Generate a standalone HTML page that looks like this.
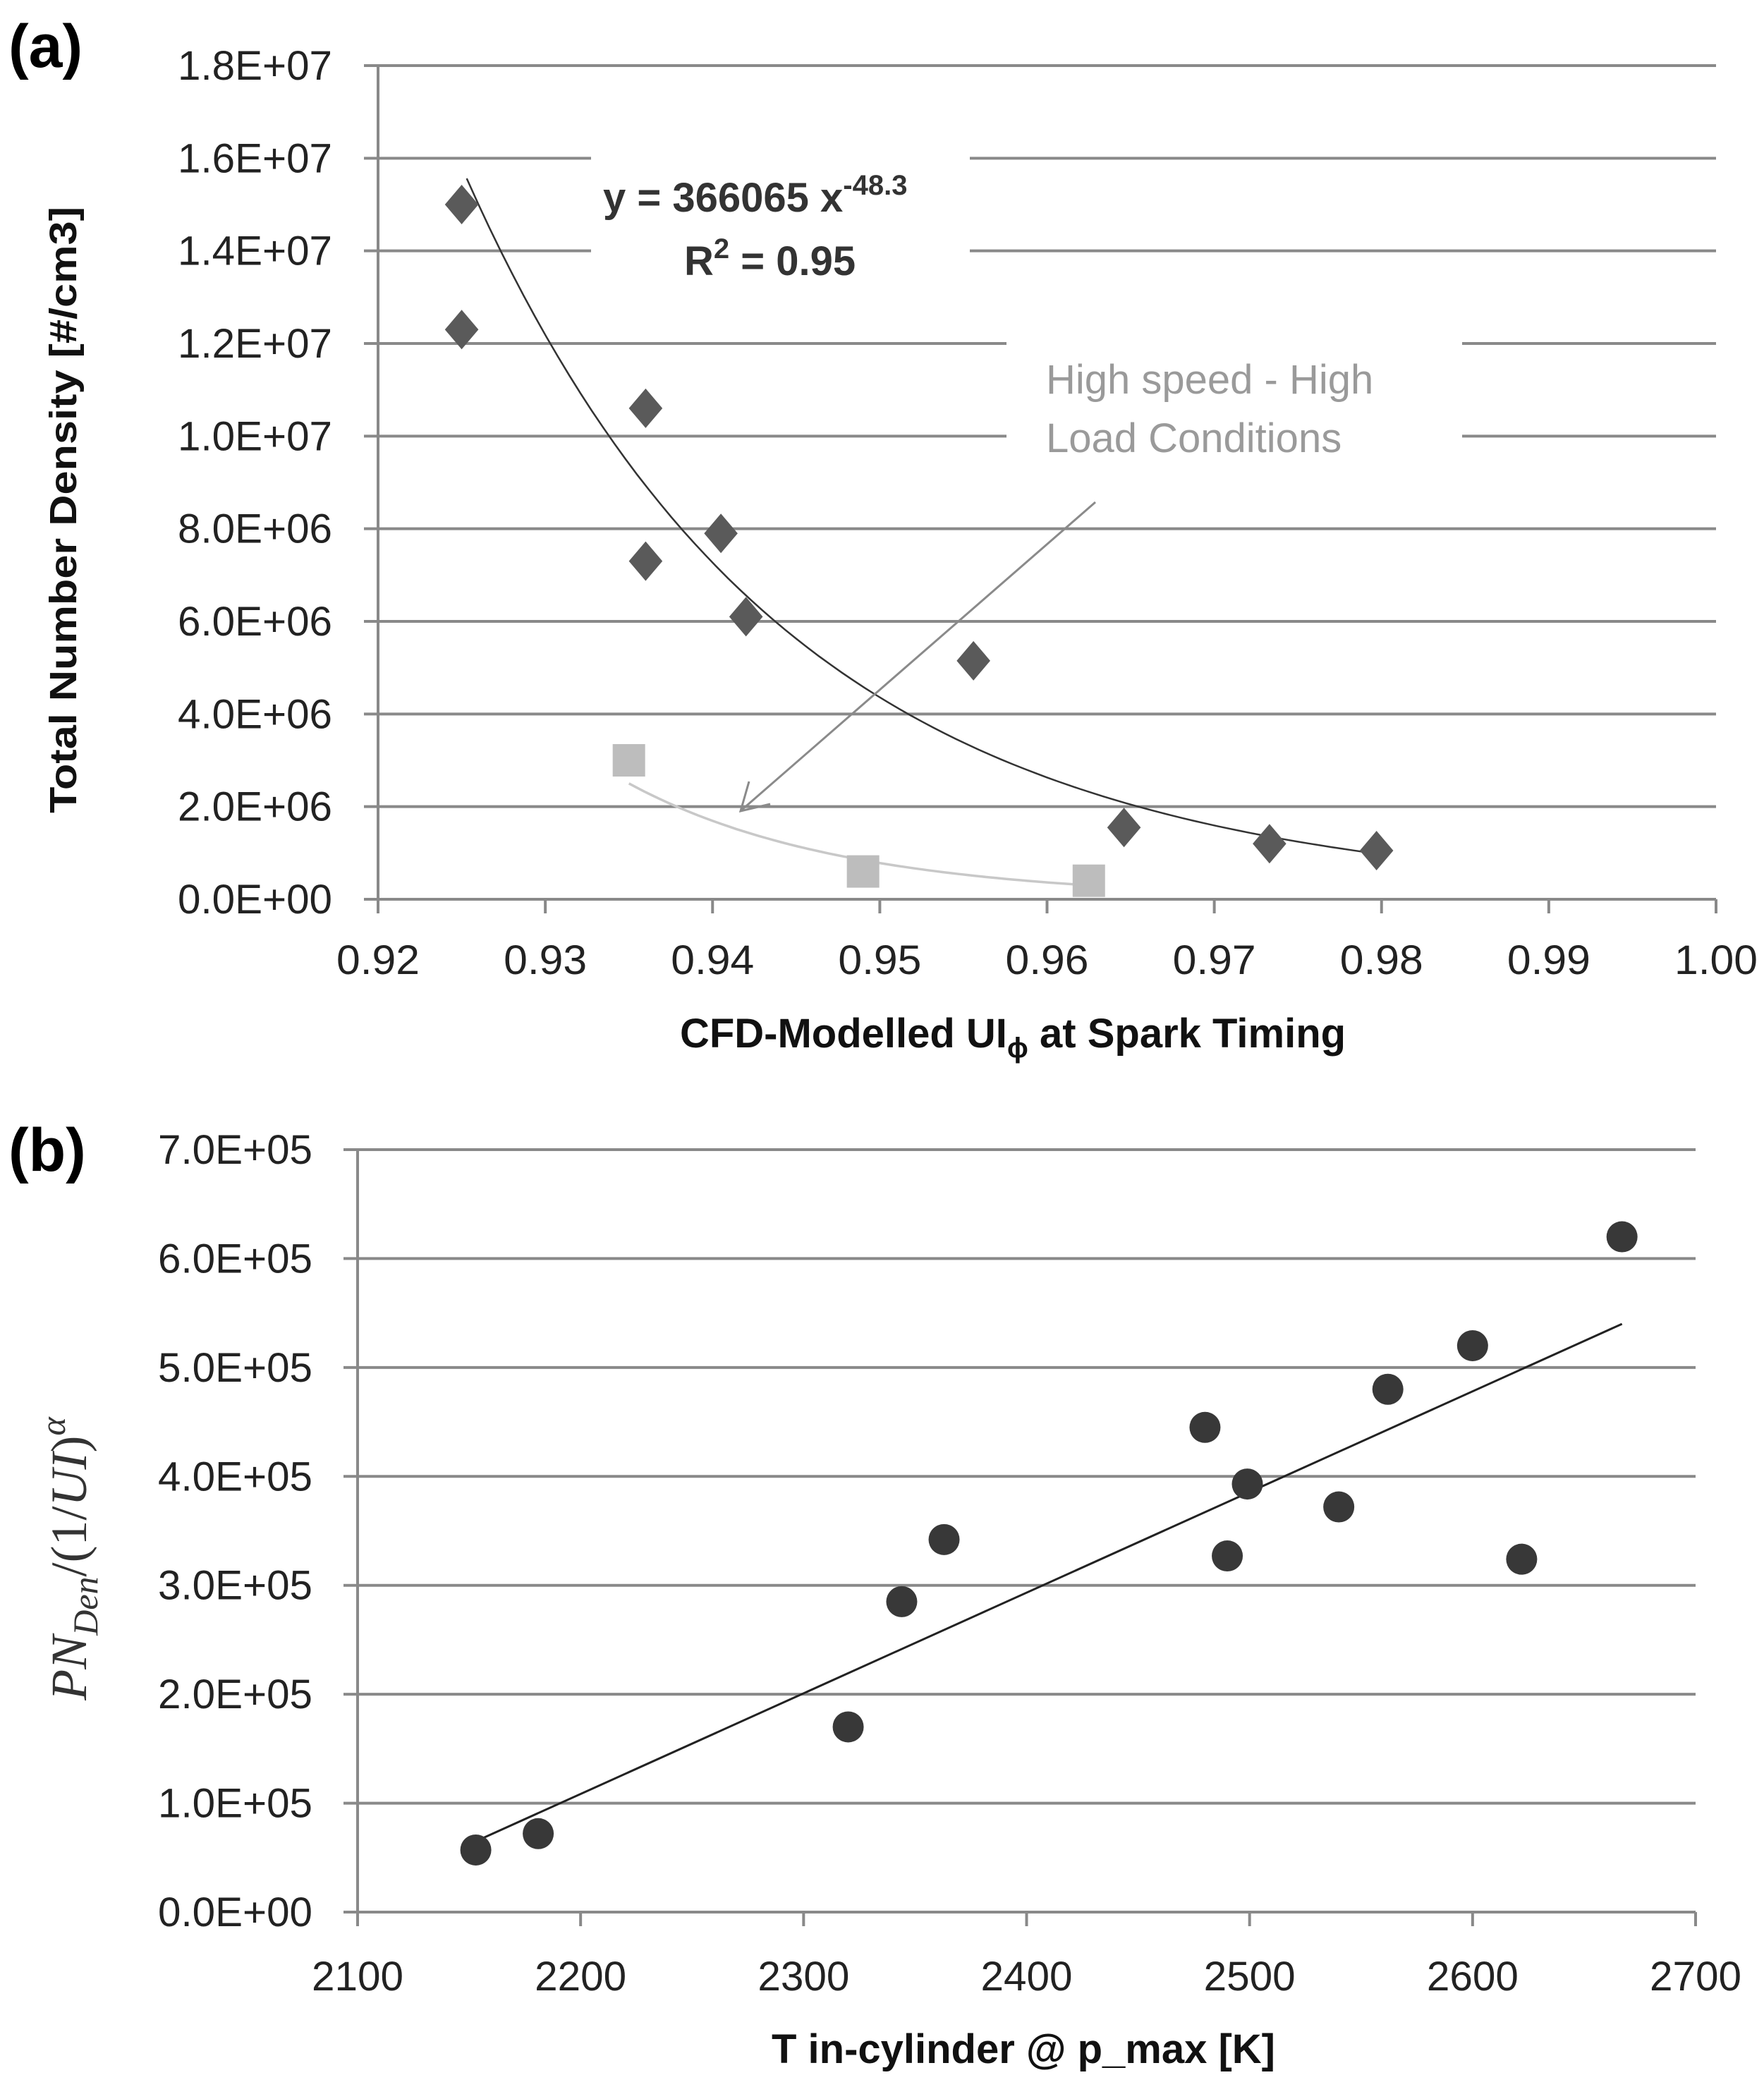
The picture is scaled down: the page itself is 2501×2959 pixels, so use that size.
<!DOCTYPE html>
<html><head><meta charset="utf-8"><style>
html,body{margin:0;padding:0;background:#fff;}
svg{display:block;}
text{font-family:"Liberation Sans Narrow","Liberation Sans",sans-serif;}
</style></head><body>
<svg id="fig" width="2501" height="2959" viewBox="0 0 2501 2959" xmlns="http://www.w3.org/2000/svg">
<rect width="2501" height="2959" fill="#fff"/>
<g id="ca"></g>
<g id="cb"></g>
</svg>
<script>
// ---- Chart (a) data ----
const aYTicks = [0, 2e6, 4e6, 6e6, 8e6, 1e7, 1.2e7, 1.4e7, 1.6e7, 1.8e7];
const aYTickLabels = ["0.0E+00","2.0E+06","4.0E+06","6.0E+06","8.0E+06","1.0E+07","1.2E+07","1.4E+07","1.6E+07","1.8E+07"];
const aXTicks = [0.92,0.93,0.94,0.95,0.96,0.97,0.98,0.99,1.00];
const aXTickLabels = ["0.92","0.93","0.94","0.95","0.96","0.97","0.98","0.99","1.00"];
const diamondX = [0.925,0.925,0.936,0.936,0.9405,0.942,0.9556,0.9646,0.9733,0.9797];
const diamondY = [1.5e7,1.23e7,1.06e7,7.3e6,7.9e6,6.1e6,5.15e6,1.55e6,1.2e6,1.05e6];
const squareX = [0.935,0.949,0.9625];
const squareY = [3.0e6,0.6e6,0.4e6];
const fitCoef = [366065, -48.3];
const fitRange = [0.9253, 0.9797];
const fit2Coef = [2.5e6, 0.935, -73];
const fit2Range = [0.935, 0.9625];
// ---- Chart (b) data ----
const bYTicks = [0,1e5,2e5,3e5,4e5,5e5,6e5,7e5];
const bYTickLabels = ["0.0E+00","1.0E+05","2.0E+05","3.0E+05","4.0E+05","5.0E+05","6.0E+05","7.0E+05"];
const bXTicks = [2100,2200,2300,2400,2500,2600,2700];
const bXTickLabels = ["2100","2200","2300","2400","2500","2600","2700"];
const circX = [2153,2181,2320,2344,2363,2480,2490,2499,2540,2562,2600,2622,2667];
const circY = [0.57e5,0.72e5,1.7e5,2.85e5,3.42e5,4.45e5,3.27e5,3.93e5,3.72e5,4.8e5,5.2e5,3.24e5,6.2e5];
const lineX = [2153, 2667];
const lineY = [0.65e5, 5.4e5];

const NS = "http://www.w3.org/2000/svg";
function mk(parent, tag, attrs, txt){
  const e = document.createElementNS(NS, tag);
  for (const k in attrs) e.setAttribute(k, attrs[k]);
  if (txt !== undefined) e.textContent = txt;
  parent.appendChild(e);
  return e;
}

// ===== Chart A =====
const A = document.getElementById('ca');
const aL=536, aR=2433, aT=93, aB=1275;
const ax = v => aL + (v-0.92)/(1.00-0.92)*(aR-aL);
const ay = v => aB - v/1.8e7*(aB-aT);

aYTicks.forEach((t,i)=>{
  const g = mk(A,'line',{x1:516,x2:aR,y1:ay(t),y2:ay(t),stroke:'#898989','stroke-width':4});
  
  
  const lb = mk(A,'text',{x:471,y:ay(t)+20,'text-anchor':'end','font-size':58,fill:'#222',textLength:219,lengthAdjust:'spacingAndGlyphs'},aYTickLabels[i]);
  
  
});
mk(A,'line',{x1:aL,x2:aL,y1:aT,y2:aB,stroke:'#898989','stroke-width':4});
aXTicks.forEach((t,i)=>{
  const tk = mk(A,'line',{x1:ax(t),x2:ax(t),y1:aB,y2:aB+20,stroke:'#898989','stroke-width':4});
  
  const lb = mk(A,'text',{x:ax(t),y:1381,'text-anchor':'middle','font-size':58,fill:'#222',textLength:118,lengthAdjust:'spacingAndGlyphs'},aXTickLabels[i]);
  
  
});
// white boxes behind annotations
mk(A,'rect',{x:838,y:185,width:537,height:215,fill:'#fff'});
mk(A,'rect',{x:1427,y:460,width:646,height:200,fill:'#fff'});

// fit curves
let d='';
for(let i=0;i<=80;i++){const x=fitRange[0]+(fitRange[1]-fitRange[0])*i/80;const y=fitCoef[0]*Math.pow(x,fitCoef[1]);d+=(i?'L':'M')+ax(x).toFixed(1)+','+ay(y).toFixed(1);}
const fc = mk(A,'path',{d:d,fill:'none',stroke:'#333','stroke-width':2.5});


d='';
for(let i=0;i<=60;i++){const x=fit2Range[0]+(fit2Range[1]-fit2Range[0])*i/60;const y=fit2Coef[0]*Math.pow(x/fit2Coef[1],fit2Coef[2]);d+=(i?'L':'M')+ax(x).toFixed(1)+','+ay(y).toFixed(1);}
const fc2 = mk(A,'path',{d:d,fill:'none',stroke:'#c8c8c8','stroke-width':3.5});



diamondX.forEach((x,i)=>{
  const cx=ax(x), cy=ay(diamondY[i]), r=28;
  const p = mk(A,'polygon',{points:`${cx},${cy-r} ${cx+r*0.85},${cy} ${cx},${cy+r} ${cx-r*0.85},${cy}`,fill:'#5a5a5a'});
  
  
});
squareX.forEach((x,i)=>{
  const cx=ax(x), cy=ay(squareY[i]), s=46;
  const p = mk(A,'rect',{x:cx-s/2,y:cy-s/2,width:s,height:s,fill:'#bdbdbd'});
  
  
});
// arrow
mk(A,'line',{x1:1553,y1:712,x2:1052,y2:1148,stroke:'#8a8a8a','stroke-width':3});
mk(A,'polyline',{points:'1062,1108 1050,1150 1092,1140',fill:'none',stroke:'#8a8a8a','stroke-width':3});

const eq = mk(A,'text',{x:855,y:300,'font-size':58,'font-weight':'bold',fill:'#333'});


eq.innerHTML='y = 366065  x<tspan dy="-24" font-size="40">-48.3</tspan>';
const r2 = mk(A,'text',{x:970,y:390,'font-size':58,'font-weight':'bold',fill:'#333'});


r2.innerHTML='R<tspan dy="-24" font-size="40">2</tspan><tspan dy="24"> = 0.95</tspan>';
const h1 = mk(A,'text',{x:1483,y:558,'font-size':58,fill:'#9a9a9a'},'High speed - High');

const h2 = mk(A,'text',{x:1483,y:641,'font-size':58,fill:'#9a9a9a'},'Load Conditions');


const yla = mk(A,'text',{x:0,y:0,'font-size':54,'font-weight':'bold',fill:'#111','text-anchor':'middle',transform:'translate(108,723) rotate(-90)',textLength:860,lengthAdjust:'spacingAndGlyphs'},'Total Number Density [#/cm3]');


const xla = mk(A,'text',{x:1436,y:1485,'font-size':58,'font-weight':'bold',fill:'#111','text-anchor':'middle'});


xla.innerHTML='CFD-Modelled UI<tspan dy="14" font-size="40">ϕ</tspan><tspan dy="-14"> at Spark Timing</tspan>';
const pa = mk(A,'text',{x:12,y:95,'font-size':86,'font-weight':'bold',fill:'#000'},'(a)');


// ===== Chart B =====
const B = document.getElementById('cb');
const bL=507, bR=2404, bT=1630, bB=2711;
const bx = v => bL + (v-2100)/600*(bR-bL);
const by = v => bB - v/7e5*(bB-bT);
bYTicks.forEach((t,i)=>{
  const g = mk(B,'line',{x1:487,x2:bR,y1:by(t),y2:by(t),stroke:'#898989','stroke-width':4});
  
  
  const lb = mk(B,'text',{x:443,y:by(t)+20,'text-anchor':'end','font-size':58,fill:'#222',textLength:219,lengthAdjust:'spacingAndGlyphs'},bYTickLabels[i]);
  
  
});
mk(B,'line',{x1:bL,x2:bL,y1:bT,y2:bB,stroke:'#898989','stroke-width':4});
bXTicks.forEach((t,i)=>{
  const tk = mk(B,'line',{x1:bx(t),x2:bx(t),y1:bB,y2:bB+20,stroke:'#898989','stroke-width':4});
  
  const lb = mk(B,'text',{x:bx(t),y:2822,'text-anchor':'middle','font-size':58,fill:'#222',textLength:130,lengthAdjust:'spacingAndGlyphs'},bXTickLabels[i]);
  
  
});
const tl = mk(B,'line',{x1:bx(lineX[0]),y1:by(lineY[0]),x2:bx(lineX[1]),y2:by(lineY[1]),stroke:'#222','stroke-width':3});


circX.forEach((x,i)=>{
  const c = mk(B,'circle',{cx:bx(x),cy:by(circY[i]),r:22,fill:'#383838'});
  
  
});
const ylb = mk(B,'text',{x:0,y:0,'font-size':72,'font-style':'italic',fill:'#333','text-anchor':'middle',transform:'translate(122,2210) rotate(-90)',style:'font-family:"Liberation Serif",serif'});


ylb.innerHTML='PN<tspan dy="16" font-size="50">Den</tspan><tspan dy="-16" font-style="normal">/(1/</tspan>UI<tspan font-style="normal">)</tspan><tspan dy="-30" font-size="50">α</tspan>';
const xlb = mk(B,'text',{x:1451,y:2925,'font-size':58,'font-weight':'bold',fill:'#111','text-anchor':'middle'},'T in-cylinder @ p_max [K]');


const pb = mk(B,'text',{x:12,y:1660,'font-size':86,'font-weight':'bold',fill:'#000'},'(b)');

</script>
</body></html>
